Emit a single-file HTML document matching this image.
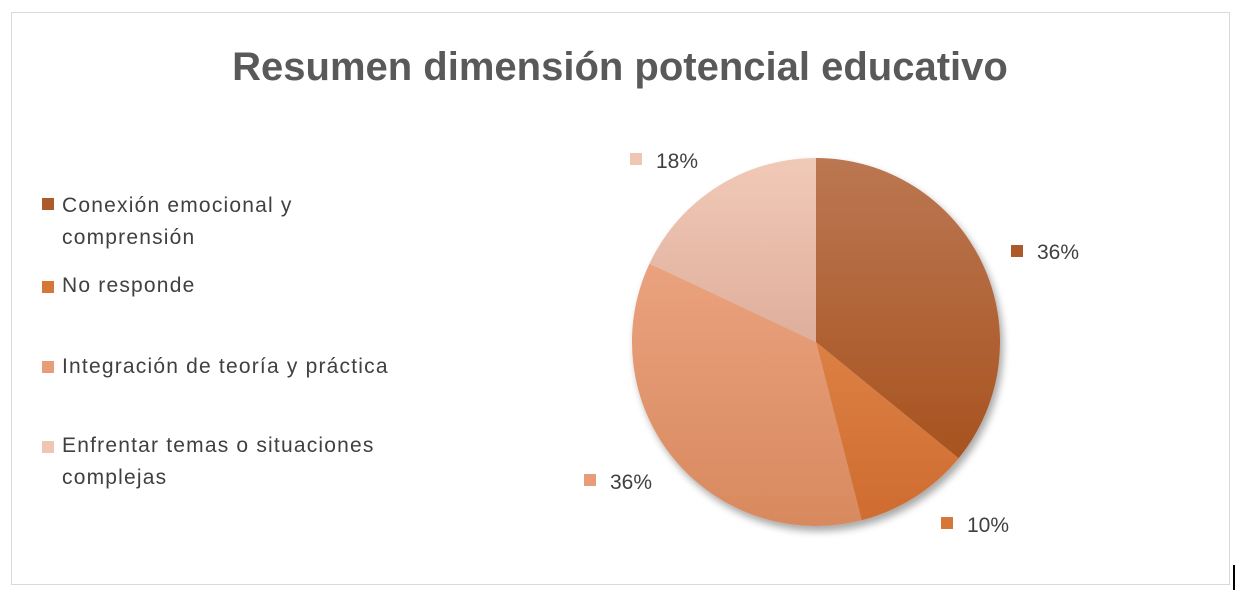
<!DOCTYPE html>
<html><head><meta charset="utf-8"><style>
body{margin:0;background:#fff;width:1240px;height:596px;overflow:hidden;font-family:"Liberation Sans",sans-serif}
</style></head><body>
<svg width="1240" height="596" viewBox="0 0 1240 596" xmlns="http://www.w3.org/2000/svg">
<defs>
<linearGradient id="g1" x1="0" y1="0" x2="0" y2="1"><stop offset="0" stop-color="#bb7752"/><stop offset="1" stop-color="#a8531f"/></linearGradient>
<linearGradient id="g2" x1="0" y1="0" x2="0" y2="1"><stop offset="0" stop-color="#dc8044"/><stop offset="1" stop-color="#cf6c30"/></linearGradient>
<linearGradient id="g3" x1="0" y1="0" x2="0" y2="1"><stop offset="0" stop-color="#eaa27e"/><stop offset="1" stop-color="#d8895e"/></linearGradient>
<linearGradient id="g4" x1="0" y1="0" x2="0" y2="1"><stop offset="0" stop-color="#f1c9b7"/><stop offset="1" stop-color="#dfae9c"/></linearGradient>
<filter id="sh" x="-10%" y="-10%" width="130%" height="130%"><feGaussianBlur in="SourceAlpha" stdDeviation="4"/><feOffset dx="3" dy="5"/><feComponentTransfer><feFuncA type="linear" slope="0.35"/></feComponentTransfer><feMerge><feMergeNode/><feMergeNode in="SourceGraphic"/></feMerge></filter>
</defs>
<rect x="11.5" y="12.5" width="1218" height="572" fill="#fff" stroke="#d9d9d9" stroke-width="1"/>
<rect x="1233" y="565" width="2" height="25" fill="#000"/>
<text x="620" y="80" text-anchor="middle" font-size="40" font-weight="bold" fill="#595959">Resumen dimensión potencial educativo</text>
<g filter="url(#sh)">
<path d="M816,342 L816,158 A184,184 0 0 1 958.6,458.3 Z" fill="url(#g1)"/>
<path d="M816,342 L958.6,458.3 A184,184 0 0 1 861.7,520.2 Z" fill="url(#g2)"/>
<path d="M816,342 L861.7,520.2 A184,184 0 0 1 649.5,263.6 Z" fill="url(#g3)"/>
<path d="M816,342 L649.5,263.6 A184,184 0 0 1 816,158 Z" fill="url(#g4)"/>
</g>
<g font-size="21" fill="#404040">
<rect x="42" y="198" width="12" height="12" fill="#ad5a2a"/>
<g letter-spacing="1.2">
<text x="62" y="212">Conexión emocional y</text>
<text x="62" y="244">comprensión</text>
<text x="62" y="292">No responde</text>
<text x="62" y="373">Integración de teoría y práctica</text>
<text x="62" y="452">Enfrentar temas o situaciones</text>
<text x="62" y="484">complejas</text>
</g>
<rect x="42" y="281" width="12" height="12" fill="#d6773a"/>
<rect x="42" y="361" width="12" height="12" fill="#e69d78"/>
<rect x="42" y="441" width="12" height="12" fill="#efc6b3"/>
<rect x="630" y="153" width="12" height="12" fill="#efc6b3"/>
<text x="656" y="168">18%</text>
<rect x="1011" y="245" width="12" height="12" fill="#ad5a2a"/>
<text x="1037" y="259">36%</text>
<rect x="584" y="474" width="12" height="12" fill="#e69d78"/>
<text x="610" y="489">36%</text>
<rect x="941" y="517" width="12" height="12" fill="#d6773a"/>
<text x="967" y="532">10%</text>
</g>
</svg>
</body></html>
